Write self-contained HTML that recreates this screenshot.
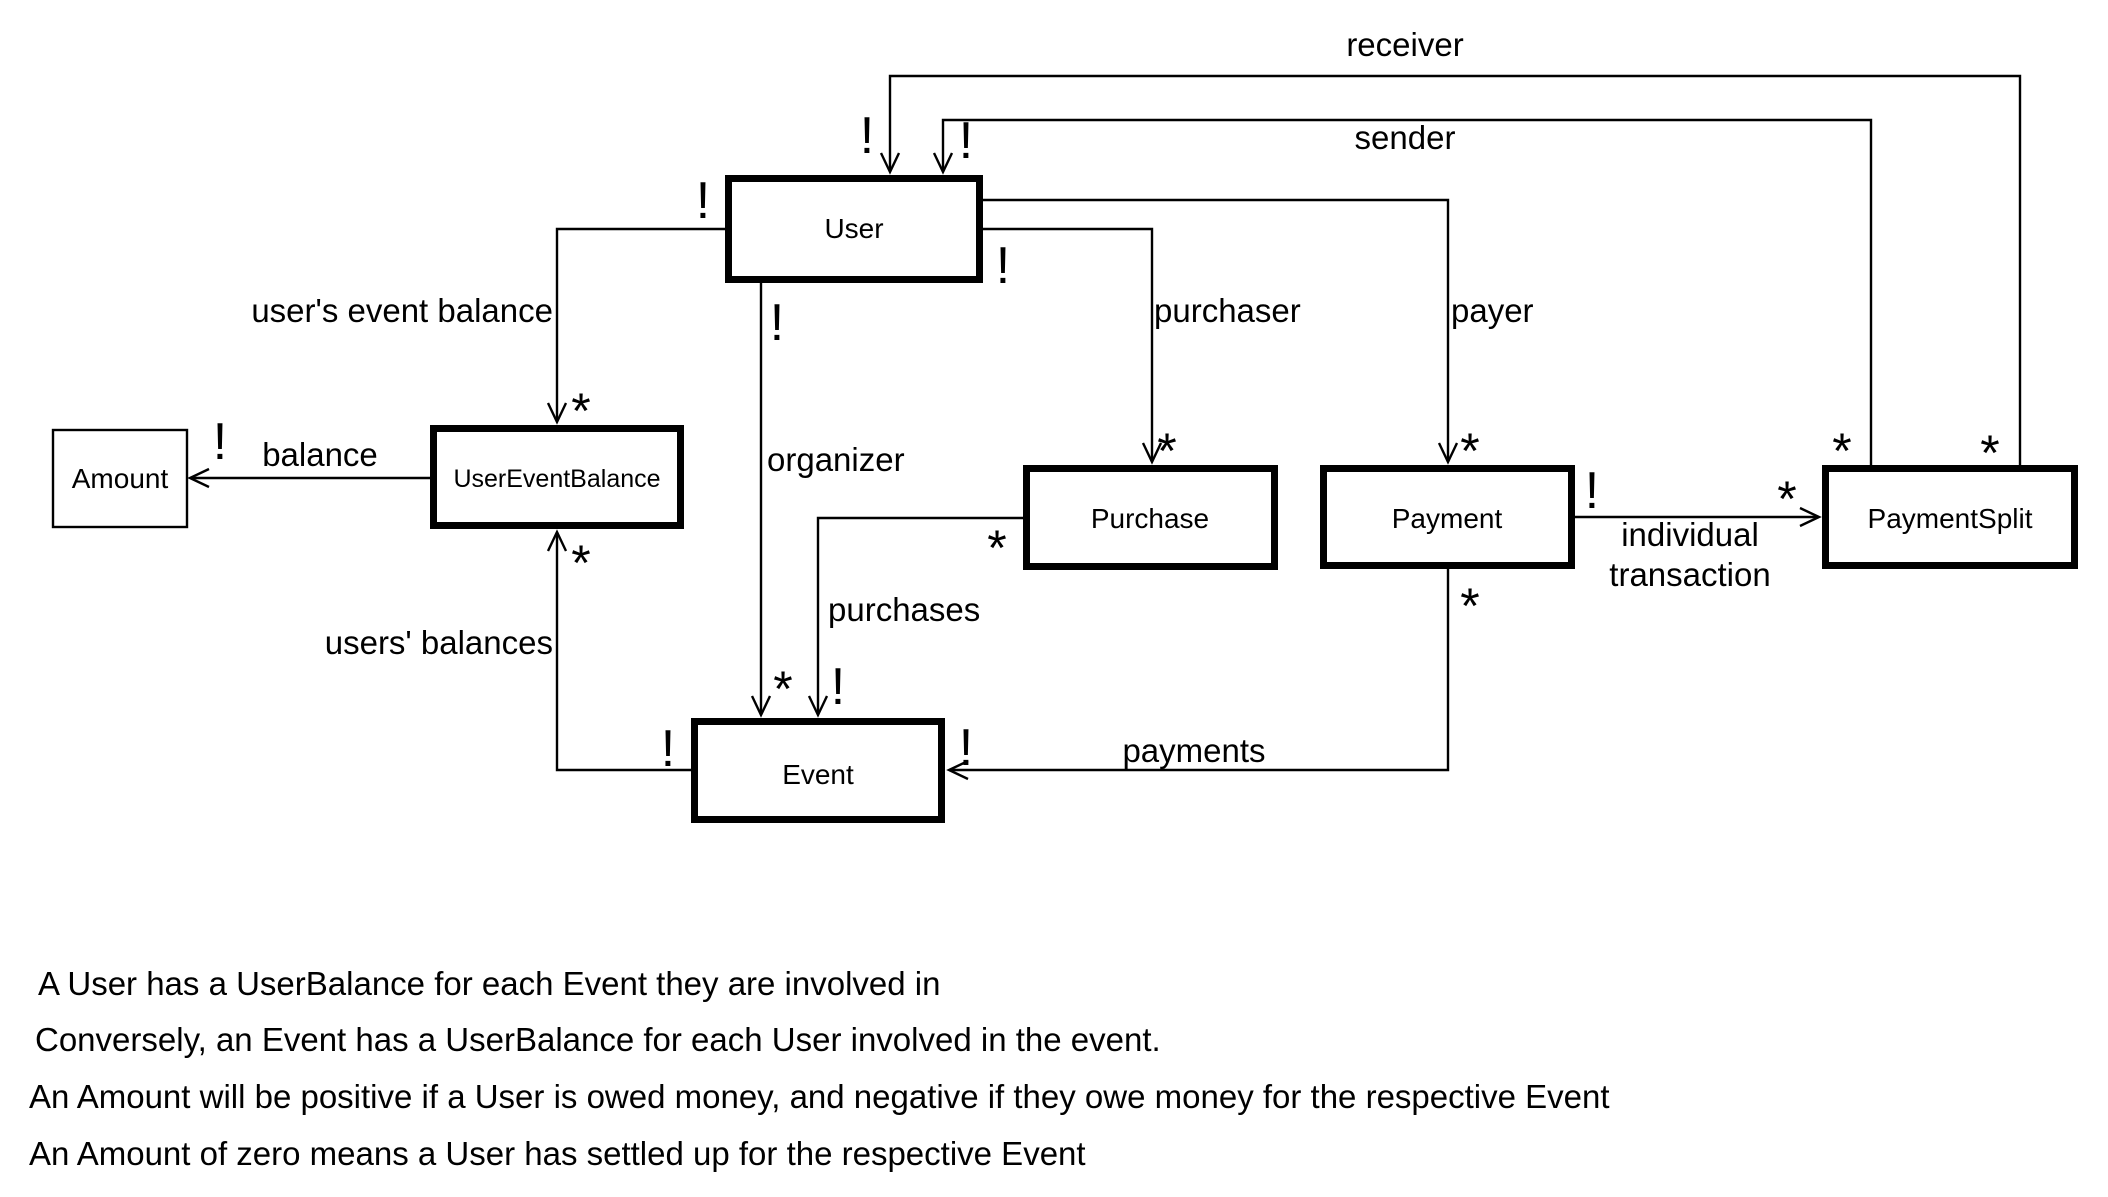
<!DOCTYPE html>
<html><head><meta charset="utf-8"><style>
html,body{margin:0;padding:0;background:#fff}
svg{display:block}
text{font-family:"Liberation Sans",Arial,sans-serif;fill:#000}
</style></head><body>
<svg width="2108" height="1197" viewBox="0 0 2108 1197" xmlns="http://www.w3.org/2000/svg">
<g fill="none" stroke="#000" stroke-width="2.4">
<polyline points="2020,465 2020,76 890,76 890,172"/>
<polyline points="881,153 890,172 899,153"/>
<polyline points="1871,465 1871,120 943,120 943,172"/>
<polyline points="934,153 943,172 952,153"/>
<polyline points="725,229 557,229 557,422"/>
<polyline points="548,403 557,422 566,403"/>
<polyline points="983,229 1152,229 1152,462"/>
<polyline points="1143,443 1152,462 1161,443"/>
<polyline points="983,200 1448,200 1448,462"/>
<polyline points="1439,443 1448,462 1457,443"/>
<polyline points="761,283 761,715"/>
<polyline points="752,696 761,715 770,696"/>
<polyline points="1023,518 818,518 818,715"/>
<polyline points="809,696 818,715 827,696"/>
<polyline points="1448,569 1448,770 949,770"/>
<polyline points="968,761 949,770 968,779"/>
<polyline points="691,770 557,770 557,532"/>
<polyline points="548,551 557,532 566,551"/>
<polyline points="430,478 190,478"/>
<polyline points="209,469 190,478 209,487"/>
<polyline points="1575,517 1819,517"/>
<polyline points="1800,508 1819,517 1800,526"/>
</g>
<g fill="#fff" stroke="#000" stroke-width="7">
<rect x="728.5" y="178.5" width="251" height="101"/>
<rect x="433.5" y="428.5" width="247" height="97"/>
<rect x="1026.5" y="468.5" width="248" height="98"/>
<rect x="1323.5" y="468.5" width="248" height="97"/>
<rect x="1825.5" y="468.5" width="249" height="97"/>
<rect x="694.5" y="721.5" width="247" height="98"/>
</g>
<rect x="53" y="430" width="134" height="97" fill="#fff" stroke="#000" stroke-width="2.4"/>
<g font-size="28" text-anchor="middle">
<text x="854" y="238">User</text>
<text x="120" y="488">Amount</text>
<text x="557" y="487" font-size="25">UserEventBalance</text>
<text x="1150" y="528">Purchase</text>
<text x="1447" y="528">Payment</text>
<text x="1950" y="528">PaymentSplit</text>
<text x="818" y="784">Event</text>
</g>
<g font-size="33">
<text x="1405" y="56" text-anchor="middle">receiver</text>
<text x="1405" y="149" text-anchor="middle">sender</text>
<text x="553" y="322" text-anchor="end">user's event balance</text>
<text x="1154" y="322">purchaser</text>
<text x="1451" y="322">payer</text>
<text x="767" y="471">organizer</text>
<text x="320" y="466" text-anchor="middle">balance</text>
<text x="828" y="621">purchases</text>
<text x="553" y="654" text-anchor="end">users' balances</text>
<text x="1690" y="546" text-anchor="middle">individual</text>
<text x="1690" y="586" text-anchor="middle">transaction</text>
<text x="1194" y="762" text-anchor="middle">payments</text>
</g>
<g font-size="52" text-anchor="middle">
<text x="703" y="218">!</text>
<text x="867" y="153">!</text>
<text x="966" y="158">!</text>
<text x="1003" y="283">!</text>
<text x="777" y="340">!</text>
<text x="220" y="459">!</text>
<text x="1592" y="508">!</text>
<text x="838" y="704">!</text>
<text x="668" y="766">!</text>
<text x="966" y="765">!</text>
</g>
<g font-size="50" text-anchor="middle">
<text x="581" y="428">*</text>
<text x="581" y="580">*</text>
<text x="1167" y="468">*</text>
<text x="1470" y="468">*</text>
<text x="997" y="565">*</text>
<text x="1787" y="516">*</text>
<text x="1842" y="468">*</text>
<text x="1990" y="470">*</text>
<text x="1470" y="623">*</text>
<text x="783" y="706">*</text>
</g>
<g font-size="33">
<text x="38" y="995">A User has a UserBalance for each Event they are involved in</text>
<text x="35" y="1051">Conversely, an Event has a UserBalance for each User involved in the event.</text>
<text x="29" y="1108">An Amount will be positive if a User is owed money, and negative if they owe money for the respective Event</text>
<text x="29" y="1165">An Amount of zero means a User has settled up for the respective Event</text>
</g>
</svg>
</body></html>
